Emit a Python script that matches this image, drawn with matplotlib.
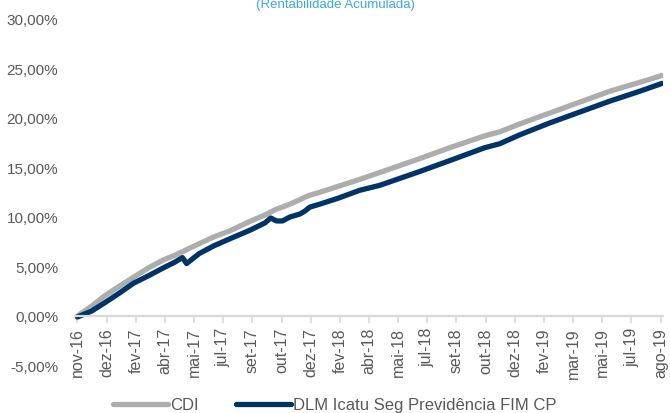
from matplotlib import pyplot as plt
from matplotlib.ticker import FuncFormatter

plt.rcParams['font.family'] = ['Liberation Sans', 'DejaVu Sans']

# dia util (indice da observacao) e rentabilidade acumulada em %
dias = [0, 17, 32, 50, 67, 86, 104, 116, 126, 131, 146, 164, 183, 208, 225, 232,
        239, 246, 255, 267, 273, 279, 291, 313, 339, 363, 387, 411, 447, 489,
        507, 531, 567, 603, 639, 675, 702]
cdi = [0.0, 1.0, 2.0, 3.0, 3.9, 4.9, 5.7, 6.1, 6.5, 6.7, 7.3, 8.0, 8.6, 9.6, 10.2,
       10.5, 10.8, 11.0, 11.3, 11.75, 12.0, 12.2, 12.5, 13.1, 13.8, 14.5, 15.2,
       15.9, 17.0, 18.2, 18.6, 19.4, 20.5, 21.6, 22.7, 23.6, 24.3]
fundo = [-0.1, 0.5, 1.3, 2.3, 3.3, 4.1, 4.9, 5.4, 5.9, 5.3, 6.3, 7.1, 7.8, 8.7, 9.4,
         9.9, 9.6, 9.6, 10.0, 10.3, 10.6, 11.0, 11.3, 11.9, 12.7, 13.2, 13.9, 14.6,
         15.7, 17.0, 17.4, 18.3, 19.5, 20.6, 21.7, 22.7, 23.5]

rotulos = ['nov-16', 'dez-16', 'fev-17', 'abr-17', 'mai-17', 'jul-17', 'set-17',
           'out-17', 'dez-17', 'fev-18', 'abr-18', 'mai-18', 'jul-18', 'set-18',
           'out-18', 'dez-18', 'fev-19', 'mar-19', 'mai-19', 'jul-19', 'ago-19']
passo = 35

cinza_txt = '#595959'
cinza_eixo = '#D9D9D9'

fig = plt.figure(figsize=(6.7, 4.14), dpi=100)
ax = fig.add_axes([75 / 670, 1 - 366.5 / 414, 588 / 670, (366.5 - 20) / 414])

ax.plot(dias, cdi, color='#ADADAD', lw=3.8, solid_capstyle='round', label='CDI')
ax.plot(dias, fundo, color='#003366', lw=3.8, solid_capstyle='round',
        label='DLM Icatu Seg Previdência FIM CP')

ax.set_ylim(-5, 30)
ax.set_yticks(range(-5, 31, 5))
ax.yaxis.set_major_formatter(FuncFormatter(lambda v, p: f'{v:.2f}%'.replace('.', ',')))
ax.set_xlim(-3, 703)
ax.set_xticks([i * passo for i in range(len(rotulos))], rotulos)

for lado in ['top', 'right', 'left']:
    ax.spines[lado].set_visible(False)
ax.spines['bottom'].set_position(('data', 0))
ax.spines['bottom'].set_color(cinza_eixo)
ax.spines['bottom'].set_linewidth(1.6)
ax.tick_params(axis='x', colors=cinza_eixo, length=5, width=1.2, labelcolor=cinza_txt,
               labelsize=11.5, pad=3, labelrotation=90)
ax.tick_params(axis='y', length=0, labelcolor=cinza_txt, labelsize=11, pad=12)

fig.text(0.5, 1 - 5 / 414, '(Rentabilidade Acumulada)', color='#3FA9DC',
         fontsize=9.5, ha='center', va='center')

fig.legend(loc='center', bbox_to_anchor=(0.5, 1 - 406 / 414), ncol=2, frameon=False,
           fontsize=12, labelcolor=cinza_txt, handlelength=3.3, handletextpad=0.15,
           columnspacing=2.2)

fig.savefig('out.png', dpi=100)
